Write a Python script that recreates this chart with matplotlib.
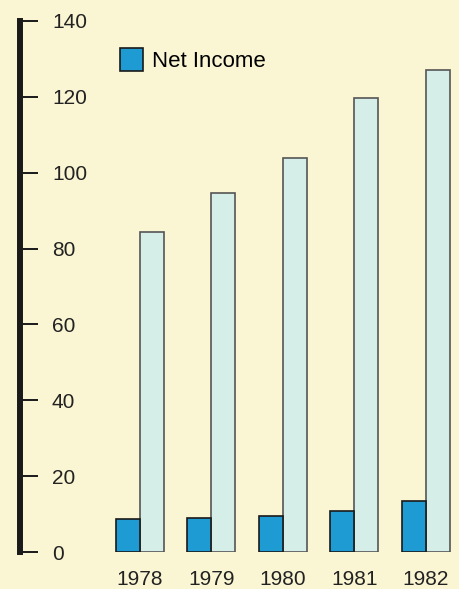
import matplotlib.pyplot as plt
import numpy as np

years = ["1978", "1979", "1980", "1981", "1982"]
net_income = [8.6, 9.0, 9.5, 10.9, 13.4]
revenue = [84.4, 94.6, 103.9, 119.7, 127.1]
y_ticks = [0, 20, 40, 60, 80, 100, 120, 140]

BG = "#FAF5D2"
DARK = "#1E9BD2"
LIGHT = "#D6EEE8"

plt.rcParams['font.family'] = ['Liberation Sans', 'DejaVu Sans']

fig = plt.figure(figsize=(4.6, 5.89), dpi=100, facecolor=BG)
ax = fig.add_axes([20 / 460, 37 / 589, 440 / 460, 531 / 589])
ax.set_facecolor(BG)

x = np.arange(len(years))
w = 0.336
ax.bar(x - w / 2, net_income, width=w, color=DARK, edgecolor="#1a1a1a",
       linewidth=1.2, label="Net Income", zorder=3)
ax.bar(x + w / 2, revenue, width=w, color=LIGHT, edgecolor="#555555",
       linewidth=1.2, zorder=2)

ax.set_xlim(-1.68, 4.48)
ax.set_ylim(0, 140)

for s in ["top", "right", "bottom"]:
    ax.spines[s].set_visible(False)
ax.spines["left"].set_linewidth(4.3)
ax.spines["left"].set_color("#1a1a1a")

ax.set_yticks(y_ticks)
ax.set_yticklabels([str(t) for t in y_ticks])
ax.tick_params(axis="y", direction="in", length=13, width=1.4,
               color="#1a1a1a", pad=-23, labelsize=15, labelcolor="#222222")
for lbl in ax.get_yticklabels():
    lbl.set_horizontalalignment("left")

ax.set_xticks(x)
ax.set_xticklabels(years)
ax.tick_params(axis="x", length=0, pad=13, labelsize=15, labelcolor="#222222")

leg = ax.legend(loc="upper left", bbox_to_anchor=(120 / 460, 1 - 48 / 589),
                bbox_transform=fig.transFigure, frameon=False, fontsize=16,
                handlelength=1.03, handleheight=1.2, handletextpad=0.42,
                borderpad=0, borderaxespad=0)

fig.savefig("out.png", dpi=100, facecolor=BG)
